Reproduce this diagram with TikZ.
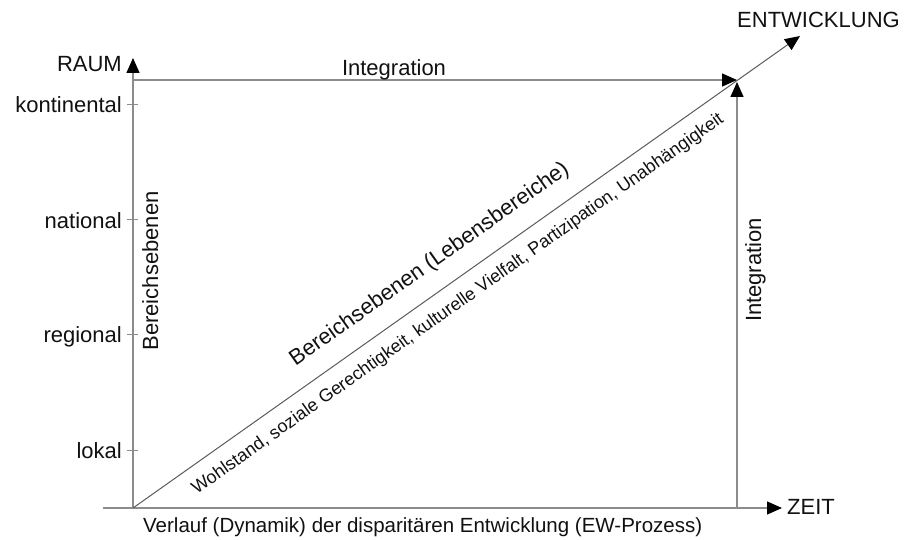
\documentclass[tikz,border=0pt]{standalone}
\usepackage{fontspec}
\setmainfont{Liberation Sans}
\usetikzlibrary{arrows.meta}
\definecolor{axisgray}{HTML}{8C8C8C}
\definecolor{diaggray}{HTML}{5A5A5A}
\definecolor{txt}{HTML}{111111}
\begin{document}
\begin{tikzpicture}[x=1pt,y=1pt,
  axis/.style={draw=axisgray, line width=1.4pt},
  tip/.style={-{Triangle[length=15pt,width=13pt,color=black]}},
  lab/.style={font=\fontsize{22}{26}\selectfont, text=txt, inner sep=0pt},
  smalllab/.style={font=\fontsize{18}{22}\selectfont, text=txt, inner sep=0pt},
  tickmark/.style={draw=axisgray, line width=1pt}]
\useasboundingbox (0,0) rectangle (907,539);
\coordinate (O) at (133,31);
\coordinate (xs) at (103,31);
\coordinate (xe) at (782,31);
\coordinate (ye) at (133,481);
\coordinate (tl) at (133,459);
\coordinate (tr) at (737,459);
\coordinate (rb) at (737,31);
\coordinate (rt) at (737,457);
\coordinate (de) at (800,503);

\draw[axis, tip] (xs) -- (xe);
\draw[axis, tip] (O) -- (ye);
\draw[line width=1pt, draw=diaggray, tip] (O) -- (de);
\draw[axis, tip] (tl) -- (tr);
\draw[axis, tip] (rb) -- (rt);

\foreach \n/\y in {k/434, n/319, r/205, l/89}{
  \coordinate (t\n a) at (127,\y);
  \coordinate (t\n b) at (138,\y);
  \draw[tickmark] (t\n a) -- (t\n b);
}

\node[lab, anchor=base east] (kon) at (122,426) {kontinental};
\node[lab, anchor=base east] (nat) at (122,311) {national};
\node[lab, anchor=base east] (reg) at (122,197) {regional};
\node[lab, anchor=base east] (lok) at (122,81) {lokal};
\node[lab, anchor=base east] (raum) at (122,467) {RAUM};
\node[lab, anchor=base west] (entw) at (737,511) {ENTWICKLUNG};
\node[lab, anchor=base west] (zeit) at (787,25) {ZEIT};
\node[lab, anchor=base west, font=\fontsize{20.5}{24}\selectfont] (verl) at (143,7) {Verlauf (Dynamik) der disparitären Entwicklung (EW-Prozess)};

\node[lab, anchor=base] (intop) at (394,463) {Integration};
\node[lab, anchor=base, rotate=90] (inrt) at (761,269) {Integration};
\node[lab, anchor=base, rotate=90] (bere) at (158,268) {Bereichsebenen};

\node[lab, anchor=base, rotate=35.28] (lebb) at (433,270) {Bereichsebenen (Lebensbereiche)};
\node[smalllab, anchor=base, rotate=35.28] (wohl) at (460.7,230.9) {Wohlstand, soziale Gerechtigkeit, kulturelle Vielfalt, Partizipation, Unabhängigkeit};
\end{tikzpicture}
\end{document}
